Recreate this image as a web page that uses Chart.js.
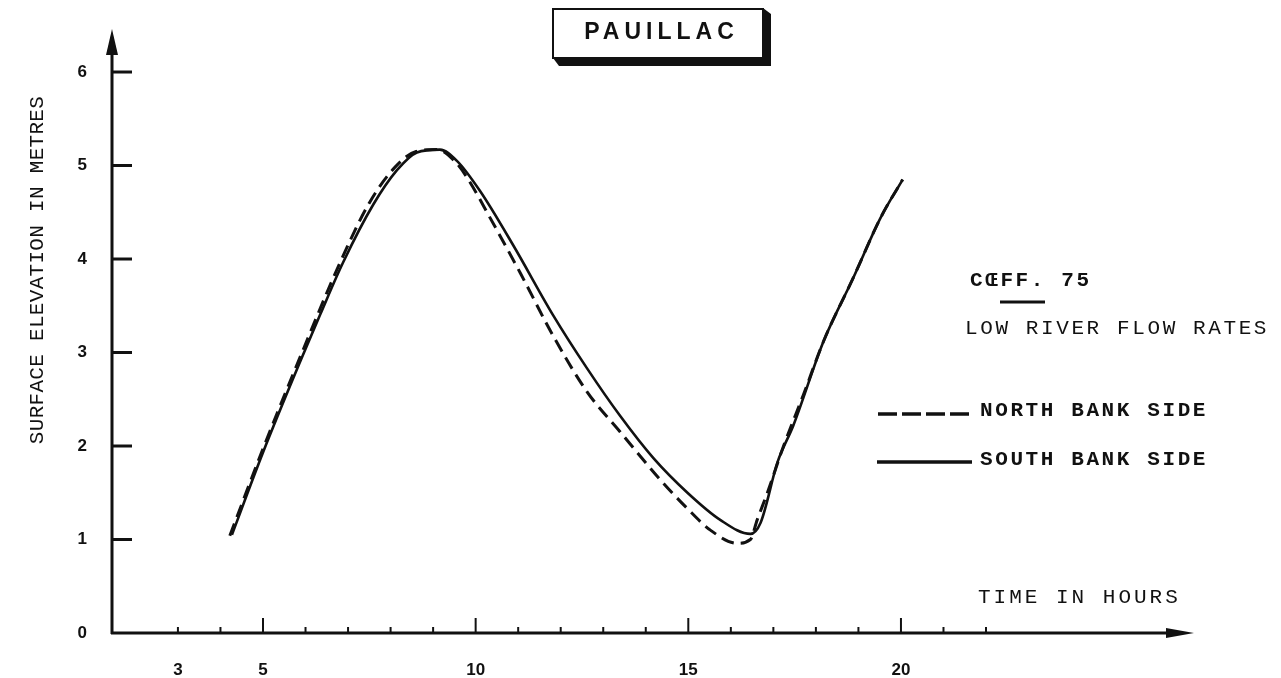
<!DOCTYPE html>
<html><head><meta charset="utf-8">
<script src="https://cdn.jsdelivr.net/npm/chart.js@4"></script>
<style>html,body{margin:0;padding:0;background:#fff;}canvas{display:block;}</style>
</head><body>
<canvas id="c" width="1281" height="678"></canvas>
<script>
// ---- data ----
const southX = [4.27, 5.0, 5.9, 6.34, 6.88, 7.59, 8.15, 8.62, 9.16, 9.56, 10.1, 10.88, 11.82, 12.62, 13.4, 14.18, 14.98, 15.75, 16.46, 16.7, 17.1, 17.47, 18.18, 18.88, 19.52, 20.04];
const southY = [1.05, 1.93, 2.93, 3.40, 3.96, 4.58, 4.95, 5.14, 5.17, 5.05, 4.73, 4.15, 3.40, 2.83, 2.32, 1.87, 1.50, 1.21, 1.06, 1.18, 1.83, 2.22, 3.12, 3.80, 4.44, 4.85];
const northX = [4.22, 5.0, 5.9, 6.8, 7.5, 8.1, 8.6, 9.1, 9.5, 9.8, 10.34, 11.05, 11.82, 12.62, 13.4, 14.34, 14.98, 15.52, 16.15, 16.46, 16.62, 16.86, 17.24, 17.7, 18.18, 18.88, 19.52, 20.04];
const northY = [1.04, 1.97, 2.98, 3.95, 4.60, 4.98, 5.15, 5.17, 5.05, 4.87, 4.44, 3.85, 3.18, 2.58, 2.15, 1.64, 1.33, 1.10, 0.96, 1.00, 1.21, 1.50, 2.00, 2.54, 3.12, 3.80, 4.44, 4.85];
const xTickValues = [3,4,5,6,7,8,9,10,11,12,13,14,15,16,17,18,19,20,21,22];
const xLabelValues = [3,5,10,15,20];
const xMajorValues = [5,10,15,20];
const yTickValues = [0,1,2,3,4,5,6];
const titleText = 'PAUILLAC';
const xAxisTitle = 'TIME IN HOURS';
const yAxisTitle = 'SURFACE ELEVATION IN METRES';
const legendHeading = 'CŒFF. 75';
const legendSub = 'LOW RIVER FLOW RATES';
const seriesNames = ['NORTH BANK SIDE', 'SOUTH BANK SIDE'];

const INK = '#111';
const MONO = '"Liberation Mono", "DejaVu Sans Mono", monospace';
const SANS = '"Liberation Sans", Arial, sans-serif';

const decor = {
  id: 'decor',
  afterDraw(chart) {
    const ctx = chart.ctx, xs = chart.scales.x, ys = chart.scales.y, ca = chart.chartArea;
    const x0 = xs.getPixelForValue(xs.min), y0 = ys.getPixelForValue(0);
    ctx.save();
    ctx.strokeStyle = INK; ctx.fillStyle = INK; ctx.lineCap = 'butt';
    // axes
    ctx.lineWidth = 3;
    ctx.beginPath();
    ctx.moveTo(x0, y0 + 1); ctx.lineTo(x0, ca.top + 20);
    ctx.moveTo(x0 - 1, y0); ctx.lineTo(ca.right - 22, y0);
    ctx.stroke();
    // arrows
    ctx.beginPath();
    ctx.moveTo(x0, ca.top); ctx.lineTo(x0 - 6, ca.top + 26); ctx.lineTo(x0 + 6, ca.top + 26); ctx.closePath(); ctx.fill();
    ctx.beginPath();
    ctx.moveTo(ca.right, y0); ctx.lineTo(ca.right - 28, y0 - 5); ctx.lineTo(ca.right - 28, y0 + 5); ctx.closePath(); ctx.fill();
    // y ticks (inside)
    ctx.lineWidth = 3;
    yTickValues.forEach(v => {
      if (v === 0) return;
      const py = ys.getPixelForValue(v);
      ctx.beginPath(); ctx.moveTo(x0, py); ctx.lineTo(x0 + 20, py); ctx.stroke();
    });
    // x ticks (inside)
    ctx.lineWidth = 2;
    xTickValues.forEach(v => {
      const px = xs.getPixelForValue(v);
      const len = xMajorValues.includes(v) ? 15 : 6;
      ctx.beginPath(); ctx.moveTo(px, y0); ctx.lineTo(px, y0 - len); ctx.stroke();
    });
    // title box with shadow
    ctx.lineWidth = 2;
    ctx.strokeRect(553, 9, 210, 49);
    ctx.beginPath();
    ctx.moveTo(763, 8); ctx.lineTo(771, 14); ctx.lineTo(771, 66); ctx.lineTo(559, 66); ctx.lineTo(553, 58); ctx.lineTo(763, 58);
    ctx.closePath(); ctx.fill();
    ctx.font = 'bold 23px ' + SANS;
    ctx.textAlign = 'left'; ctx.textBaseline = 'middle';
    ctx.letterSpacing = '5px';
    const tw = ctx.measureText(titleText).width;
    ctx.fillText(titleText, 659 - tw / 2 + 2.5, 33);
    ctx.letterSpacing = '0px';
    // axis titles
    ctx.font = '21px ' + MONO;
    ctx.letterSpacing = '3px';
    ctx.fillText(xAxisTitle, 978, 597);
    ctx.save();
    ctx.translate(37, 270); ctx.rotate(-Math.PI / 2);
    ctx.letterSpacing = '0.3px';
    ctx.textAlign = 'center';
    ctx.fillText(yAxisTitle, 0, 0);
    ctx.restore();
    // legend block
    ctx.font = 'bold 21px ' + MONO;
    ctx.letterSpacing = '2.6px';
    ctx.fillText(legendHeading, 970, 281);
    ctx.lineWidth = 3;
    ctx.beginPath(); ctx.moveTo(1000, 302); ctx.lineTo(1045, 302); ctx.stroke();
    ctx.font = '21px ' + MONO;
    ctx.letterSpacing = '2.6px';
    ctx.fillText(legendSub, 965, 328);
    ctx.font = 'bold 21px ' + MONO;
    ctx.fillText(seriesNames[0], 980, 411);
    ctx.fillText(seriesNames[1], 980, 460);
    ctx.letterSpacing = '0px';
    ctx.lineWidth = 3.5;
    ctx.setLineDash([19, 5]);
    ctx.beginPath(); ctx.moveTo(878, 414); ctx.lineTo(970, 414); ctx.stroke();
    ctx.setLineDash([]);
    ctx.lineWidth = 3.5;
    ctx.beginPath(); ctx.moveTo(877, 462); ctx.lineTo(972, 462); ctx.stroke();
    ctx.restore();
  }
};

const toPts = (xa, ya) => xa.map((x, i) => ({ x, y: ya[i] }));

new Chart(document.getElementById('c'), {
  type: 'line',
  data: {
    datasets: [
      { label: seriesNames[0], data: toPts(northX, northY), borderColor: INK, borderWidth: 3, borderDash: [13, 7],
        pointRadius: 0, cubicInterpolationMode: 'monotone', fill: false },
      { label: seriesNames[1], data: toPts(southX, southY), borderColor: INK, borderWidth: 2.6,
        pointRadius: 0, cubicInterpolationMode: 'monotone', fill: false }
    ]
  },
  options: {
    responsive: false, animation: false, devicePixelRatio: 1,
    layout: { padding: { top: 29, right: 87, left: 0, bottom: 0 } },
    plugins: { legend: { display: false }, tooltip: { enabled: false }, title: { display: false } },
    scales: {
      x: {
        type: 'linear', min: 1.45, max: 26.89,
        grid: { display: false }, border: { display: false },
        afterBuildTicks: s => { s.ticks = xTickValues.map(v => ({ value: v })); },
        afterFit: s => { s.height = 45; },
        ticks: { autoSkip: false, maxRotation: 0, padding: 19, color: INK,
          font: { family: SANS, size: 17, weight: 'bold' },
          callback: v => xLabelValues.includes(v) ? String(v) : '' }
      },
      y: {
        type: 'linear', min: 0, max: 6.46,
        grid: { display: false }, border: { display: false },
        afterBuildTicks: s => { s.ticks = yTickValues.map(v => ({ value: v })); },
        afterFit: s => { s.width = 112; },
        ticks: { padding: 17, color: INK, font: { family: SANS, size: 17, weight: 'bold' } }
      }
    }
  },
  plugins: [decor]
});
</script>
</body></html>
